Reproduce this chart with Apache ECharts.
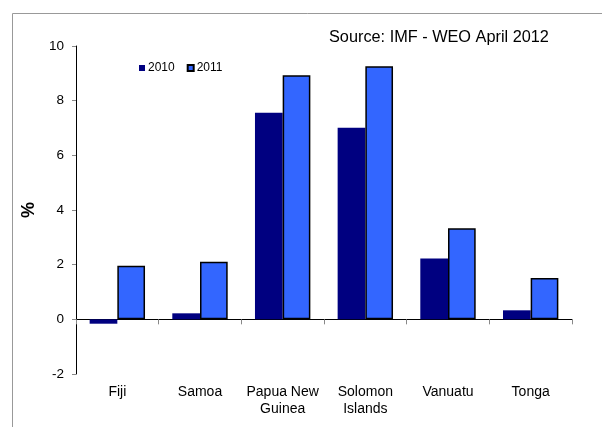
<!DOCTYPE html>
<html lang="en">
<head>
  <meta charset="UTF-8">
  <title>Pacific growth</title>
  <style>
    * { margin: 0; padding: 0; }
    body { background: #fff; }
    #chart { width: 602px; height: 427px; }
  </style>
</head>
<body>
  <div id="chart"></div>
  <script src="https://cdn.jsdelivr.net/npm/echarts@6/dist/echarts.min.js"></script>
  <script>
    const countries = ['Fiji', 'Samoa', 'Papua New\nGuinea', 'Solomon\nIslands', 'Vanuatu', 'Tonga'];
    const values2010 = [-0.16, 0.22, 7.56, 7.01, 2.23, 0.33];
    const values2011 = [1.96, 2.11, 8.93, 9.26, 3.33, 1.51];
    const yTicks = [-2, 0, 2, 4, 6, 8, 10];

    const font = 'Arial, "Liberation Sans", sans-serif';
    const chart = echarts.init(document.getElementById('chart'));

    chart.setOption({
      animation: false,
      textStyle: { fontFamily: font, color: '#000' },
      title: {
        text: 'Source: IMF - WEO April 2012',
        left: 324,
        top: 25,
        textStyle: { fontFamily: font, fontSize: 16.3, fontWeight: 'normal', color: '#000' }
      },
      legend: {
        left: 134,
        top: 57,
        itemWidth: 6,
        itemHeight: 6,
        itemGap: 12,
        icon: 'rect',
        textStyle: { fontFamily: font, fontSize: 12, color: '#000', padding: [0, 0, 0, -2] },
        data: ['2010', '2011']
      },
      graphic: [{
        type: 'rect',
        left: 10,
        top: 11,
        shape: { width: 700, height: 500 },
        style: { fill: 'none', stroke: '#999', lineWidth: 1 },
        silent: true
      }],
      grid: { left: 76, right: 30, top: 46, bottom: 53 },
      xAxis: [{
        type: 'category',
        data: countries,
        axisLine: { onZero: true, lineStyle: { color: '#000', width: 1 } },
        axisTick: { show: true, length: 5, lineStyle: { color: '#888' } },
        axisLabel: { show: false }
      }, {
        type: 'category',
        data: countries,
        position: 'bottom',
        axisLine: { show: false, onZero: false },
        axisTick: { show: false },
        axisLabel: { interval: 0, fontFamily: font, fontSize: 14, color: '#000', margin: 10, lineHeight: 17 }
      }],
      yAxis: {
        type: 'value',
        min: yTicks[0],
        max: yTicks[yTicks.length - 1],
        interval: 2,
        name: '%',
        nameLocation: 'middle',
        nameGap: 36,
        nameTextStyle: { fontFamily: font, fontSize: 18, fontWeight: 'bold', color: '#000' },
        axisLine: { show: true, lineStyle: { color: '#000', width: 1 } },
        axisTick: { show: true, length: 4, lineStyle: { color: '#888' } },
        axisLabel: { fontFamily: font, fontSize: 13.5, color: '#000', margin: 12 },
        splitLine: { show: false }
      },
      series: [{
        name: '2010',
        type: 'bar',
        xAxisIndex: 0,
        data: values2010,
        barGap: '0%',
        barCategoryGap: '33%',
        itemStyle: { color: '#000080' }
      }, {
        name: '2011',
        type: 'bar',
        xAxisIndex: 0,
        data: values2011,
        itemStyle: { color: '#3366ff', borderColor: '#000', borderWidth: 1.5 }
      }]
    });
  </script>
</body>
</html>
